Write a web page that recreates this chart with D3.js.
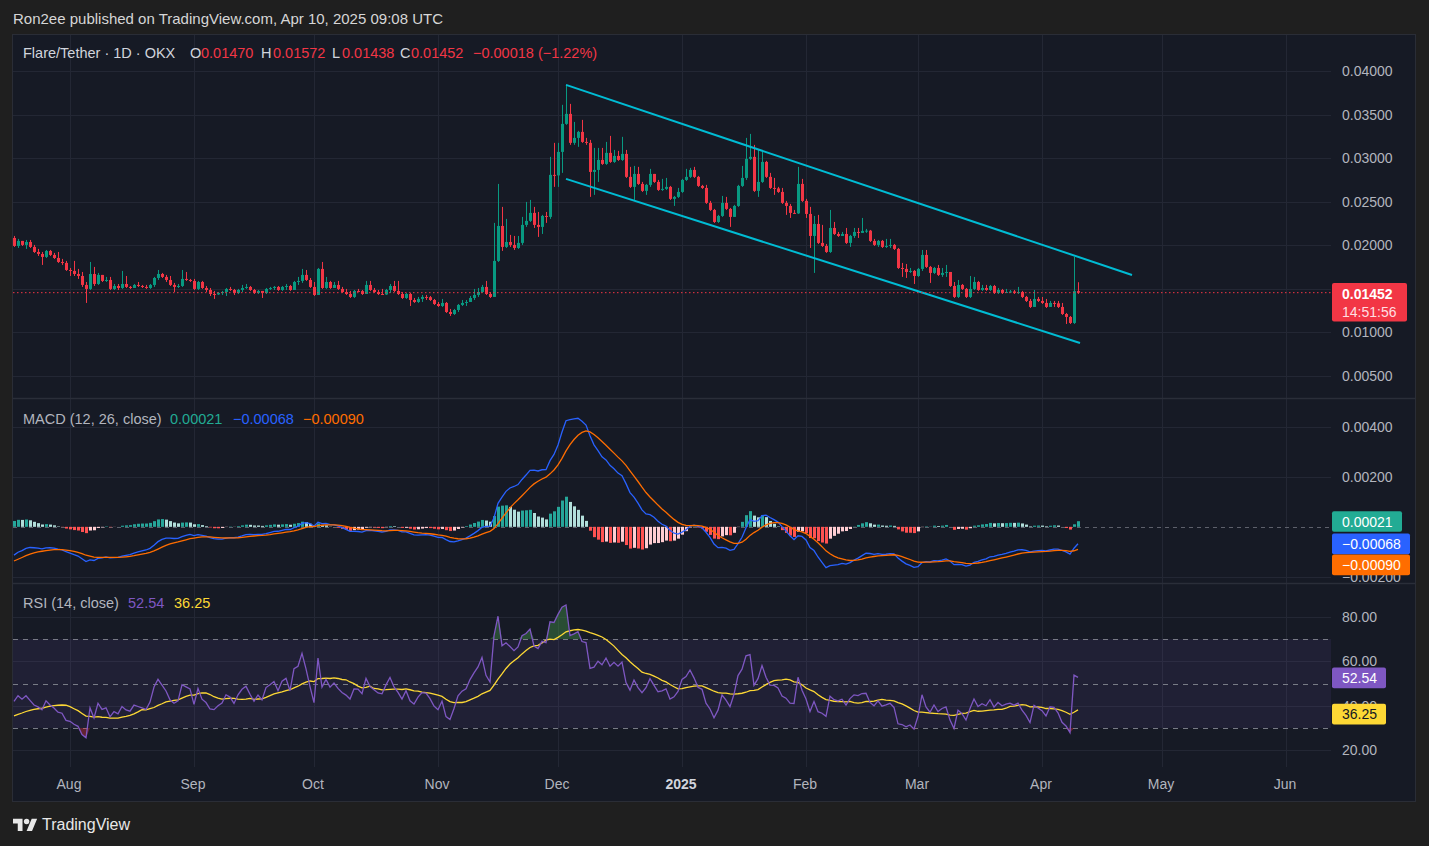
<!DOCTYPE html>
<html>
<head>
<meta charset="utf-8">
<script src="https://cdn.jsdelivr.net/npm/d3@7"></script>
<style>
  body { margin: 0; background: #1f1f1f; }
  svg text { font-family: "Liberation Sans", Arial, sans-serif; }
</style>
</head>
<body>
<svg id="chart" width="1429" height="846"></svg>
<script>
// FLR/USDT daily candles, Jul 18 2024 .. Apr 10 2025
const DAY = 864e5;
const startDay = Date.UTC(2024, 6, 18);
const firstOpen = 0.02081;

const closes = [
  0.01989,0.02047,0.02001,0.02035,0.01978,0.01920,0.01897,0.01863,0.01932,0.01886,
  0.01851,0.01805,0.01794,0.01713,0.01702,0.01667,0.01644,0.01541,0.01495,0.01667,
  0.01552,0.01656,0.01587,0.01598,0.01495,0.01529,0.01506,0.01552,0.01518,0.01506,
  0.01541,0.01529,0.01518,0.01506,0.01541,0.01621,0.01667,0.01633,0.01598,0.01541,
  0.01518,0.01529,0.01610,0.01598,0.01587,0.01495,0.01575,0.01506,0.01483,0.01437,
  0.01432,0.01449,0.01460,0.01495,0.01483,0.01449,0.01483,0.01506,0.01518,0.01483,
  0.01449,0.01472,0.01449,0.01495,0.01506,0.01518,0.01483,0.01518,0.01529,0.01483,
  0.01575,0.01587,0.01656,0.01598,0.01518,0.01426,0.01725,0.01506,0.01575,0.01506,
  0.01541,0.01495,0.01460,0.01437,0.01403,0.01472,0.01470,0.01437,0.01541,0.01483,
  0.01460,0.01437,0.01431,0.01483,0.01529,0.01472,0.01437,0.01391,0.01437,0.01368,
  0.01345,0.01380,0.01403,0.01400,0.01368,0.01322,0.01299,0.01334,0.01230,0.01207,
  0.01253,0.01311,0.01334,0.01345,0.01391,0.01426,0.01460,0.01518,0.01437,0.01403,
  0.01817,0.02219,0.01978,0.02035,0.02001,0.01966,0.02024,0.02231,0.02277,0.02369,
  0.02231,0.02208,0.02334,0.02323,0.02806,0.02800,0.03070,0.03392,0.03507,0.03174,
  0.03231,0.03300,0.03185,0.03174,0.02840,0.02863,0.02978,0.02932,0.03059,0.02955,
  0.03024,0.02978,0.03047,0.02783,0.02668,0.02817,0.02702,0.02622,0.02691,0.02817,
  0.02725,0.02633,0.02645,0.02668,0.02530,0.02553,0.02610,0.02748,0.02783,0.02863,
  0.02783,0.02679,0.02656,0.02484,0.02403,0.02265,0.02334,0.02484,0.02415,0.02323,
  0.02449,0.02679,0.02771,0.02990,0.03013,0.02622,0.02725,0.02955,0.02783,0.02656,
  0.02650,0.02610,0.02484,0.02449,0.02369,0.02363,0.02702,0.02507,0.02357,0.02104,
  0.02242,0.02024,0.01989,0.01920,0.02196,0.02127,0.02104,0.02127,0.02024,0.02104,
  0.02150,0.02139,0.02162,0.02165,0.02047,0.02001,0.02047,0.01978,0.01989,0.02001,
  0.01955,0.01736,0.01725,0.01690,0.01702,0.01644,0.01725,0.01886,0.01748,0.01679,
  0.01736,0.01656,0.01679,0.01690,0.01529,0.01403,0.01541,0.01495,0.01403,0.01495,
  0.01575,0.01483,0.01506,0.01483,0.01529,0.01449,0.01483,0.01449,0.01460,0.01466,
  0.01449,0.01460,0.01403,0.01357,0.01288,0.01380,0.01357,0.01334,0.01288,0.01334,
  0.01330,0.01288,0.01207,0.01173,0.01104,0.01470,0.01452
];

const highs = [
  0.02104,0.02070,0.02047,0.02058,0.02058,0.02001,0.01955,0.01920,0.01943,0.01943,
  0.01909,0.01920,0.01840,0.01817,0.01736,0.01817,0.01725,0.01690,0.01575,0.01805,
  0.01748,0.01679,0.01656,0.01633,0.01633,0.01552,0.01552,0.01702,0.01644,0.01529,
  0.01552,0.01575,0.01541,0.01541,0.01552,0.01633,0.01713,0.01679,0.01656,0.01644,
  0.01564,0.01552,0.01713,0.01690,0.01610,0.01610,0.01587,0.01587,0.01529,0.01506,
  0.01472,0.01460,0.01472,0.01506,0.01518,0.01495,0.01495,0.01541,0.01552,0.01529,
  0.01495,0.01483,0.01472,0.01506,0.01518,0.01529,0.01529,0.01529,0.01552,0.01541,
  0.01587,0.01633,0.01725,0.01713,0.01621,0.01575,0.01736,0.01805,0.01633,0.01587,
  0.01575,0.01587,0.01518,0.01495,0.01472,0.01483,0.01495,0.01483,0.01587,0.01587,
  0.01506,0.01483,0.01495,0.01495,0.01552,0.01587,0.01587,0.01460,0.01449,0.01449,
  0.01391,0.01403,0.01426,0.01426,0.01414,0.01380,0.01345,0.01380,0.01345,0.01265,
  0.01265,0.01322,0.01368,0.01368,0.01414,0.01495,0.01506,0.01541,0.01587,0.01460,
  0.02254,0.02702,0.02438,0.02300,0.02116,0.02104,0.02104,0.02323,0.02495,0.02518,
  0.02438,0.02380,0.02346,0.02380,0.03013,0.03174,0.03174,0.03611,0.03841,0.03622,
  0.03415,0.03312,0.03438,0.03231,0.03208,0.03116,0.03116,0.03116,0.03185,0.03254,
  0.03093,0.03082,0.03243,0.03093,0.02898,0.02909,0.02898,0.02725,0.02702,0.02875,
  0.02817,0.02748,0.02760,0.02771,0.02679,0.02564,0.02656,0.02760,0.02875,0.02886,
  0.02898,0.02794,0.02691,0.02691,0.02507,0.02415,0.02346,0.02564,0.02553,0.02426,
  0.02461,0.02691,0.02909,0.03231,0.03277,0.03151,0.03093,0.03070,0.02967,0.02829,
  0.02771,0.02668,0.02656,0.02507,0.02472,0.02403,0.02898,0.02760,0.02530,0.02438,
  0.02334,0.02346,0.02231,0.02012,0.02403,0.02265,0.02150,0.02150,0.02196,0.02116,
  0.02196,0.02196,0.02311,0.02185,0.02173,0.02070,0.02058,0.02058,0.02070,0.02070,
  0.02012,0.01966,0.01794,0.01782,0.01736,0.01713,0.01736,0.01943,0.01943,0.01759,
  0.01748,0.01771,0.01736,0.01771,0.01690,0.01575,0.01598,0.01552,0.01506,0.01644,
  0.01633,0.01587,0.01541,0.01541,0.01541,0.01541,0.01506,0.01495,0.01495,0.01483,
  0.01483,0.01518,0.01472,0.01414,0.01380,0.01483,0.01403,0.01403,0.01380,0.01357,
  0.01357,0.01357,0.01334,0.01219,0.01184,0.01863,0.01572
];

const lows = [
  0.01978,0.01966,0.01989,0.01955,0.01966,0.01909,0.01874,0.01771,0.01851,0.01874,
  0.01840,0.01794,0.01771,0.01702,0.01644,0.01644,0.01610,0.01518,0.01334,0.01483,
  0.01529,0.01541,0.01575,0.01575,0.01483,0.01483,0.01483,0.01495,0.01506,0.01495,
  0.01506,0.01518,0.01506,0.01495,0.01495,0.01518,0.01598,0.01621,0.01575,0.01529,
  0.01460,0.01506,0.01518,0.01587,0.01575,0.01483,0.01483,0.01495,0.01460,0.01414,
  0.01380,0.01426,0.01426,0.01414,0.01472,0.01426,0.01437,0.01460,0.01495,0.01472,
  0.01437,0.01437,0.01391,0.01437,0.01483,0.01483,0.01472,0.01472,0.01483,0.01472,
  0.01483,0.01541,0.01564,0.01587,0.01506,0.01414,0.01426,0.01495,0.01495,0.01495,
  0.01506,0.01483,0.01449,0.01426,0.01391,0.01391,0.01460,0.01426,0.01437,0.01472,
  0.01449,0.01426,0.01426,0.01426,0.01449,0.01460,0.01426,0.01380,0.01380,0.01299,
  0.01334,0.01334,0.01345,0.01368,0.01357,0.01311,0.01288,0.01288,0.01219,0.01184,
  0.01196,0.01230,0.01299,0.01299,0.01345,0.01368,0.01403,0.01449,0.01426,0.01391,
  0.01403,0.01805,0.01932,0.01966,0.01978,0.01943,0.01955,0.02001,0.02208,0.02265,
  0.02196,0.02093,0.02127,0.02254,0.02300,0.02668,0.02668,0.02829,0.03381,0.03151,
  0.03151,0.03128,0.03174,0.03151,0.02553,0.02576,0.02725,0.02921,0.02921,0.02944,
  0.02944,0.02967,0.02967,0.02771,0.02656,0.02518,0.02691,0.02610,0.02576,0.02668,
  0.02714,0.02622,0.02622,0.02633,0.02518,0.02449,0.02541,0.02599,0.02737,0.02771,
  0.02771,0.02668,0.02645,0.02472,0.02392,0.02254,0.02254,0.02323,0.02403,0.02208,
  0.02323,0.02438,0.02668,0.02748,0.02978,0.02610,0.02553,0.02714,0.02771,0.02645,
  0.02576,0.02599,0.02472,0.02346,0.02311,0.02357,0.02357,0.02495,0.02311,0.01966,
  0.01679,0.02012,0.01978,0.01909,0.01909,0.02116,0.02093,0.02104,0.02012,0.01978,
  0.02081,0.02081,0.02139,0.02139,0.02035,0.01989,0.01978,0.01966,0.01966,0.01966,
  0.01943,0.01725,0.01633,0.01621,0.01679,0.01552,0.01633,0.01702,0.01736,0.01564,
  0.01667,0.01644,0.01633,0.01633,0.01518,0.01391,0.01391,0.01483,0.01391,0.01391,
  0.01483,0.01472,0.01472,0.01472,0.01472,0.01437,0.01437,0.01437,0.01449,0.01449,
  0.01437,0.01437,0.01391,0.01345,0.01276,0.01288,0.01345,0.01322,0.01276,0.01288,
  0.01288,0.01276,0.01196,0.01092,0.01092,0.01092,0.01438
];

// indicator state carried in from before the first visible bar
const macdSeed = { ema12: 0.02010, ema26: 0.02130, signal: -0.00142 };
const rsiSeed = { gain: 0.00045, loss: 0.00055, ma: 35 };

// values printed in the legends / badges
const ohlcLast = ["0.01470", "0.01572", "0.01438", "0.01452"];
const changeLast = "\u22120.00018 (\u22121.22%)";
const lastPrice = 0.01452;
const countdown = "14:51:56";
const macdLast = [0.00021, -0.00068, -0.00090];
const rsiLast = [52.54, 36.25];

// ticks (0.015 sits under the last-price badge, so no label for it)
const priceTicks = [0.005, 0.01, 0.015, 0.02, 0.025, 0.03, 0.035, 0.04];
const priceLabels = [0.005, 0.01, 0.02, 0.025, 0.03, 0.035, 0.04];
const macdTicks = [-0.002, 0.002, 0.004];
const rsiTicks = [20, 40, 60, 80];
const rsiLevels = [30, 50, 70];
const monthTicks = [
  Date.UTC(2024,7,1), Date.UTC(2024,8,1), Date.UTC(2024,9,1), Date.UTC(2024,10,1),
  Date.UTC(2024,11,1), Date.UTC(2025,0,1), Date.UTC(2025,1,1), Date.UTC(2025,2,1),
  Date.UTC(2025,3,1), Date.UTC(2025,4,1), Date.UTC(2025,5,1)
];
const monthLabels = ["Aug","Sep","Oct","Nov","Dec","2025","Feb","Mar","Apr","May","Jun"];

// drawn trend channel
const channelUpper = [[Date.UTC(2024,11,3), 0.0384], [Date.UTC(2025,3,23,12), 0.01656]];
const channelLower = [[Date.UTC(2024,11,3), 0.0276], [Date.UTC(2025,3,10,12), 0.00874]];

const C = {
  up: "#089981", down: "#f23645", grid: "#232734", text: "#b2b5be",
  macd: "#2962ff", signal: "#ff6d00", rsi: "#7e57c2", rsiMa: "#fdd835",
  channel: "#00bcd4", bg: "#161a25"
};

const svg = d3.select("#chart");
const plotL = 13, plotR = 1331;
const pane = { main: [35, 398], macd: [399, 583], rsi: [584, 767] };

const x = d3.scaleUtc()
  .domain([new Date(startDay), new Date(startDay + 266 * DAY)])
  .range([14, 1078]);
const y = d3.scaleLinear().domain([0.005, 0.04]).range([375.5, 71]);
const yM = d3.scaleLinear().domain([-0.002, 0.004]).range([577, 426.5]);
const yR = d3.scaleLinear().domain([20, 80]).range([750.3, 616.7]);

const bars = closes.map((c, i) => ({
  t: new Date(startDay + i * DAY),
  o: i === 0 ? firstOpen : closes[i - 1],
  h: highs[i], l: lows[i], c: c
}));

// MACD 12/26/9
let e12 = macdSeed.ema12, e26 = macdSeed.ema26, sig = macdSeed.signal;
const macd = bars.map(d => {
  e12 += (d.c - e12) * 2 / 13;
  e26 += (d.c - e26) * 2 / 27;
  const m = e12 - e26;
  sig += (m - sig) * 2 / 10;
  return { t: d.t, m: m, s: sig, h: m - sig };
});

// RSI 14 + SMA 14
let ag = rsiSeed.gain, al = rsiSeed.loss, prev = firstOpen;
const rsiVals = bars.map(d => {
  const ch = d.c - prev; prev = d.c;
  ag = (ag * 13 + Math.max(ch, 0)) / 14;
  al = (al * 13 + Math.max(-ch, 0)) / 14;
  return 100 - 100 / (1 + ag / al);
});
const rsi = bars.map((d, i) => {
  let s = 0;
  for (let k = i - 13; k <= i; k++) s += k < 0 ? rsiSeed.ma : rsiVals[k];
  return { t: d.t, r: rsiVals[i], ma: s / 14 };
});

// frame
svg.append("rect").attr("x", 12.5).attr("y", 34.5).attr("width", 1403).attr("height", 767)
  .attr("fill", C.bg).attr("stroke", "#2a2d36");

const clip = svg.append("defs");
Object.entries(pane).forEach(([k, v]) => {
  clip.append("clipPath").attr("id", "clip-" + k).append("rect")
    .attr("x", plotL).attr("y", v[0]).attr("width", plotR - plotL).attr("height", v[1] - v[0]);
});

// grid
const grid = svg.append("g").attr("stroke", C.grid).attr("stroke-width", 1);
monthTicks.forEach(t => {
  const px = Math.round(x(t)) + 0.5;
  grid.append("line").attr("x1", px).attr("x2", px).attr("y1", 35).attr("y2", 767);
});
priceTicks.forEach(p => grid.append("line").attr("x1", plotL).attr("x2", plotR)
  .attr("y1", Math.round(y(p)) + 0.5).attr("y2", Math.round(y(p)) + 0.5));
macdTicks.forEach(p => grid.append("line").attr("x1", plotL).attr("x2", plotR)
  .attr("y1", Math.round(yM(p)) + 0.5).attr("y2", Math.round(yM(p)) + 0.5));
rsiTicks.forEach(p => grid.append("line").attr("x1", plotL).attr("x2", plotR)
  .attr("y1", Math.round(yR(p)) + 0.5).attr("y2", Math.round(yR(p)) + 0.5));

// pane separators
[398.5, 583.5].forEach(v => svg.append("line").attr("x1", 13).attr("x2", 1415)
  .attr("y1", v).attr("y2", v).attr("stroke", "#2a2e39").attr("stroke-width", 1.5));

// ---------- main pane ----------
const gMain = svg.append("g").attr("clip-path", "url(#clip-main)");
const cg = gMain.selectAll("g.c").data(bars).enter().append("g")
  .attr("fill", d => d.c >= d.o ? C.up : C.down)
  .attr("stroke", d => d.c >= d.o ? C.up : C.down);
cg.append("line")
  .attr("x1", d => Math.round(x(d.t)) + 0.5).attr("x2", d => Math.round(x(d.t)) + 0.5)
  .attr("y1", d => y(d.h)).attr("y2", d => y(d.l)).attr("stroke-width", 1);
cg.append("rect")
  .attr("x", d => Math.round(x(d.t)) - 1).attr("width", 3)
  .attr("y", d => y(Math.max(d.o, d.c)))
  .attr("height", d => Math.max(1, Math.abs(y(d.o) - y(d.c))))
  .attr("stroke", "none");

const lineP = d3.line().x(d => x(d[0])).y(d => y(d[1]));
[channelUpper, channelLower].forEach(ch => gMain.append("path").datum(ch)
  .attr("d", lineP).attr("fill", "none").attr("stroke", C.channel).attr("stroke-width", 2));

svg.append("line").attr("x1", plotL).attr("x2", plotR)
  .attr("y1", y(lastPrice)).attr("y2", y(lastPrice))
  .attr("stroke", C.down).attr("stroke-dasharray", "1.5,2.5");

const axisText = (sel, vals, sc, fmt) => vals.forEach(v => sel.append("text")
  .attr("x", 1342).attr("y", sc(v) + 5).attr("fill", C.text).attr("font-size", 14).text(fmt(v)));
axisText(svg, priceLabels, y, d3.format(".5f"));

const pb = svg.append("g");
pb.append("rect").attr("x", 1332).attr("y", 283).attr("width", 75).attr("height", 38.5)
  .attr("rx", 2).attr("fill", C.down);
pb.append("text").attr("x", 1342).attr("y", 298.5).attr("fill", "#fff").attr("font-size", 14)
  .attr("font-weight", "bold").text(d3.format(".5f")(lastPrice));
pb.append("text").attr("x", 1342).attr("y", 316.5).attr("fill", "#ffdfe2").attr("font-size", 14)
  .text(countdown);

// ---------- MACD pane ----------
const gM = svg.append("g").attr("clip-path", "url(#clip-macd)");
gM.append("line").attr("x1", plotL).attr("x2", plotR)
  .attr("y1", Math.round(yM(0)) + 0.5).attr("y2", Math.round(yM(0)) + 0.5)
  .attr("stroke", "#5d606b").attr("stroke-dasharray", "4,4");
gM.selectAll("rect.h").data(macd).enter().append("rect")
  .attr("x", d => Math.round(x(d.t)) - 1).attr("width", 3)
  .attr("y", d => Math.min(yM(0), yM(d.h)))
  .attr("height", d => Math.abs(yM(d.h) - yM(0)))
  .attr("fill", (d, i) => {
    const p = i > 0 ? macd[i - 1].h : d.h;
    if (d.h >= 0) return d.h >= p ? "#26a69a" : "#b2dfdb";
    return d.h < p ? "#ff5252" : "#ffcdd2";
  });
const lm = d3.line().x(d => x(d.t));
gM.append("path").datum(macd).attr("d", lm.y(d => yM(d.m))).attr("fill", "none")
  .attr("stroke", C.macd).attr("stroke-width", 1.3);
gM.append("path").datum(macd).attr("d", lm.y(d => yM(d.s))).attr("fill", "none")
  .attr("stroke", C.signal).attr("stroke-width", 1.3);
axisText(svg, macdTicks, yM, v => d3.format(".5f")(v).replace("-", "\u2212"));

// ---------- RSI pane ----------
const gR = svg.append("g").attr("clip-path", "url(#clip-rsi)");
gR.append("rect").attr("x", plotL).attr("width", plotR - plotL)
  .attr("y", yR(70)).attr("height", yR(30) - yR(70)).attr("fill", "rgba(126,87,194,0.1)");
rsiLevels.forEach(v => gR.append("line").attr("x1", plotL).attr("x2", plotR)
  .attr("y1", Math.round(yR(v)) + 0.5).attr("y2", Math.round(yR(v)) + 0.5)
  .attr("stroke", "#787b86").attr("stroke-dasharray", "5,5"));
gR.append("path").datum(rsi)
  .attr("d", d3.area().x(d => x(d.t)).y0(yR(70)).y1(d => yR(Math.max(70, d.r))))
  .attr("fill", "rgba(76,175,80,0.35)");
gR.append("path").datum(rsi)
  .attr("d", d3.area().x(d => x(d.t)).y0(yR(30)).y1(d => yR(Math.min(30, d.r))))
  .attr("fill", "rgba(242,54,69,0.35)");
const lr = d3.line().x(d => x(d.t));
gR.append("path").datum(rsi).attr("d", lr.y(d => yR(d.ma))).attr("fill", "none")
  .attr("stroke", C.rsiMa).attr("stroke-width", 1.3);
gR.append("path").datum(rsi).attr("d", lr.y(d => yR(d.r))).attr("fill", "none")
  .attr("stroke", C.rsi).attr("stroke-width", 1.3);
axisText(svg, rsiTicks, yR, d3.format(".2f"));

// badges on the right scale
function badge(val, cy, fill, color, w) {
  svg.append("rect").attr("x", 1332).attr("y", cy - 10.3).attr("width", w).attr("height", 20.6)
    .attr("rx", 2).attr("fill", fill);
  svg.append("text").attr("x", 1342).attr("y", cy + 5).attr("fill", color)
    .attr("font-size", 14).text(val);
}
const fm = v => d3.format(".5f")(v).replace("-", "\u2212");
let by = [yM(macdLast[0]), yM(macdLast[1]), yM(macdLast[2])];
if (by[1] - by[0] < 21) by[1] = by[0] + 21;
if (by[2] - by[1] < 21) by[2] = by[1] + 21;
badge(fm(macdLast[0]), by[0], "#22ab94", "#fff", 70);
badge(fm(macdLast[1]), by[1], C.macd, "#fff", 78);
badge(fm(macdLast[2]), by[2], C.signal, "#fff", 78);
badge(rsiLast[0].toFixed(2), yR(rsiLast[0]), C.rsi, "#fff", 54);
badge(rsiLast[1].toFixed(2), yR(rsiLast[1]), C.rsiMa, "#131722", 54);

// time axis
monthTicks.forEach((t, i) => svg.append("text")
  .attr("x", x(t) - 1).attr("y", 789).attr("text-anchor", "middle")
  .attr("fill", monthLabels[i] === "2025" ? "#d1d4dc" : C.text)
  .attr("font-weight", monthLabels[i] === "2025" ? "bold" : "normal")
  .attr("font-size", 14).text(monthLabels[i]));

// legends
svg.append("text").attr("x", 13).attr("y", 24).attr("fill", "#d6d6d6").attr("font-size", 15)
  .text("Ron2ee published on TradingView.com, Apr 10, 2025 09:08 UTC");

function legendPiece(txt, px, py, fill) {
  svg.append("text").attr("x", px).attr("y", py).attr("font-size", 14.5)
    .attr("fill", fill).text(txt);
}
legendPiece("Flare/Tether \u00b7 1D \u00b7 OKX", 23, 58, "#d1d4dc");
[["O", 190, 201], ["H", 261, 273], ["L", 332, 342], ["C", 400, 411]].forEach((k, i) => {
  legendPiece(k[0], k[1], 58, "#d1d4dc");
  legendPiece(ohlcLast[i], k[2], 58, C.down);
});
legendPiece(changeLast, 473, 58, C.down);

legendPiece("MACD (12, 26, close)", 23, 424, "#b2b5be");
legendPiece(fm(macdLast[0]), 170, 424, "#22ab94");
legendPiece(fm(macdLast[1]), 233, 424, C.macd);
legendPiece(fm(macdLast[2]), 303, 424, C.signal);

legendPiece("RSI (14, close)", 23, 608, "#b2b5be");
legendPiece(rsiLast[0].toFixed(2), 128, 608, C.rsi);
legendPiece(rsiLast[1].toFixed(2), 174, 608, C.rsiMa);

// footer logo
const logo = svg.append("g").attr("transform", "translate(13,816) scale(0.68)").attr("fill", "#e8e8e8");
logo.append("path").attr("d", "M14 22H7V11H0V4h14v18zM28 22h-8l7.5-18h8L28 22z");
logo.append("circle").attr("cx", 20).attr("cy", 8).attr("r", 4);
svg.append("text").attr("x", 42).attr("y", 830).attr("fill", "#e8e8e8").attr("font-size", 16)
  .text("TradingView");
</script>
</body>
</html>
